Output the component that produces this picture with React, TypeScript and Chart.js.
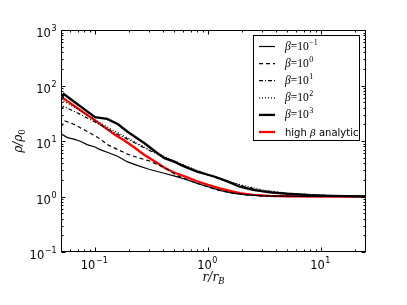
import React, { useEffect, useRef } from "react";
import { Chart, registerables } from "chart.js";

Chart.register(...registerables);

// ---- data ----
const rBetaM1 = [0.05, 0.057, 0.065, 0.075, 0.085, 0.1, 0.111, 0.13, 0.158, 0.194, 0.24, 0.3, 0.4, 0.5, 0.65, 0.8, 1.0, 1.3, 1.7, 2.2, 3, 5, 10, 25];
const rhoBetaM1 = [13.5, 11.5, 10.8, 9.8, 8.6, 7.8, 7.0, 6.2, 5.3, 4.2, 3.6, 3.1, 2.65, 2.35, 2.0, 1.72, 1.5, 1.28, 1.14, 1.07, 1.03, 1.01, 1.0, 1.0];

const rBeta0 = [0.05, 0.054, 0.065, 0.08, 0.091, 0.11, 0.13, 0.164, 0.194, 0.24, 0.3, 0.412, 0.54, 0.7, 0.9, 1.2, 1.6, 2.2, 3, 5, 10, 25];
const rhoBeta0 = [18, 23, 20, 16, 13.8, 11, 8.5, 6.8, 5.8, 5.0, 4.4, 3.3, 2.35, 1.9, 1.6, 1.32, 1.16, 1.07, 1.03, 1.01, 1.0, 1.0];

const rBeta1 = [0.05, 0.053, 0.07, 0.1, 0.15, 0.2, 0.3, 0.5, 0.7, 1, 1.5, 2, 3, 5, 10, 25];
const rhoBeta1 = [38, 42, 32, 22, 14, 10.5, 6.8, 4.3, 3.2, 2.45, 1.85, 1.55, 1.28, 1.13, 1.05, 1.0];

const rBeta2 = [0.05, 0.053, 0.07, 0.1, 0.15, 0.2, 0.3, 0.5, 0.7, 1, 1.5, 2, 3, 5, 10, 25];
const rhoBeta2 = [48, 52, 38, 24, 15, 11, 7.0, 4.4, 3.3, 2.5, 1.9, 1.6, 1.32, 1.15, 1.06, 1.0];

const rBeta3 = [0.05, 0.053, 0.07, 0.1, 0.128, 0.16, 0.194, 0.274, 0.35, 0.412, 0.506, 0.62, 0.8, 1.15, 1.5, 1.91, 2.5, 3.53, 5, 8, 12, 25];
const rhoBeta3 = [55, 70, 46, 27, 25, 20, 14.7, 9.1, 6.2, 4.9, 4.2, 3.45, 2.8, 2.27, 1.85, 1.5, 1.32, 1.19, 1.12, 1.06, 1.03, 1.0];

const rAnalytic = [0.05, 0.07, 0.1, 0.15, 0.182, 0.22, 0.274, 0.35, 0.412, 0.5, 0.62, 0.8, 1.0, 1.27, 1.6, 1.91, 2.5, 3.5, 5, 10, 25];
const rhoAnalytic = [63, 39, 23.5, 13, 10.2, 7.8, 5.6, 4.1, 3.3, 2.7, 2.3, 1.88, 1.62, 1.4, 1.25, 1.15, 1.07, 1.03, 1.01, 1.0, 1.0];

const betaExponents = ["-1", "0", "1", "2", "3"];
const analyticLabel = "high β analytic";

const xMin = 0.05;
const xMax = 25;
const yMin = 0.1;
const yMax = 1000;
const xTickValues = [0.1, 1, 10];
const xTickExponents = ["\u22121", "0", "1"];
const yTickValues = [0.1, 1, 10, 100, 1000];
const yTickExponents = ["\u22121", "0", "1", "2", "3"];

const pts = (r: number[], v: number[]) => r.map((x, i) => ({ x, y: v[i] }));

const decorPlugin = {
  id: "decor",
  afterDraw(chart: any) {
    const ctx = chart.ctx as CanvasRenderingContext2D;
    const a = chart.chartArea;
    const xs = chart.scales.x;
    const ys = chart.scales.y;
    ctx.save();
    // frame
    ctx.strokeStyle = "#000";
    ctx.lineWidth = 1;
    const L = Math.round(a.left) + 0.5;
    const R = Math.round(a.right) - 0.5;
    const T = Math.round(a.top) + 0.5;
    const B = Math.round(a.bottom) - 0.5;
    ctx.strokeRect(L, T, R - L, B - T);

    // ticks
    ctx.beginPath();
    const logTicks = (min: number, max: number) => {
      const out: { v: number; major: boolean }[] = [];
      for (let d = Math.floor(Math.log10(min)); d <= Math.ceil(Math.log10(max)); d++) {
        for (let m = 1; m <= 9; m++) {
          const v = m * Math.pow(10, d);
          if (v >= min * 0.999 && v <= max * 1.001) out.push({ v, major: m === 1 });
        }
      }
      return out;
    };
    for (const t of logTicks(xMin, xMax)) {
      const p = Math.round(xs.getPixelForValue(t.v)) + 0.5;
      const len = t.major ? 4 : 2;
      ctx.moveTo(p, B);
      ctx.lineTo(p, B - len);
      ctx.moveTo(p, T);
      ctx.lineTo(p, T + len);
    }
    for (const t of logTicks(yMin, yMax)) {
      const p = Math.round(ys.getPixelForValue(t.v)) + 0.5;
      const len = t.major ? 4 : 2;
      ctx.moveTo(L, p);
      ctx.lineTo(L + len, p);
      ctx.moveTo(R, p);
      ctx.lineTo(R - len, p);
    }
    ctx.stroke();

    // tick labels
    ctx.fillStyle = "#000";
    ctx.textBaseline = "alphabetic";
    ctx.textAlign = "left";
    const baseFont = "11.5px 'DejaVu Sans'";
    const supFont = "8px 'DejaVu Sans'";
    const measure = (exp: string) => {
      ctx.font = baseFont;
      const w1 = ctx.measureText("10").width;
      ctx.font = supFont;
      const w2 = ctx.measureText(exp).width;
      return [w1, w2];
    };
    const drawPow = (x: number, baseline: number, exp: string) => {
      ctx.font = baseFont;
      ctx.fillText("10", x, baseline);
      const w1 = ctx.measureText("10").width;
      ctx.font = supFont;
      ctx.fillText(exp, x + w1 + 0.5, baseline - 6);
    };
    xTickValues.forEach((v, i) => {
      const p = xs.getPixelForValue(v);
      const [w1, w2] = measure(xTickExponents[i]);
      drawPow(p - (w1 + w2) / 2 - 1, B + 17.5, xTickExponents[i]);
    });
    yTickValues.forEach((v, i) => {
      const p = ys.getPixelForValue(v);
      const [w1, w2] = measure(yTickExponents[i]);
      drawPow(L - 5 - w1 - w2 - 0.5, p + 7, yTickExponents[i]);
    });

    // axis titles
    const it = "italic 12px 'DejaVu Serif'";
    const sub = "italic 8.5px 'DejaVu Serif'";
    ctx.font = it;
    const wa = ctx.measureText("r/r").width;
    ctx.font = sub;
    const wb = ctx.measureText("B").width;
    const cx = (a.left + a.right) / 2;
    ctx.font = it;
    ctx.fillText("r/r", cx - (wa + wb) / 2, 281);
    ctx.font = sub;
    ctx.fillText("B", cx - (wa + wb) / 2 + wa, 284);
    ctx.save();
    ctx.translate(22, (a.top + a.bottom) / 2);
    ctx.rotate(-Math.PI / 2);
    ctx.font = it;
    const wc = ctx.measureText("ρ/ρ").width;
    ctx.font = "8.5px 'DejaVu Serif'";
    const wd = ctx.measureText("0").width;
    ctx.font = it;
    ctx.fillText("ρ/ρ", -(wc + wd) / 2, 0);
    ctx.font = "8.5px 'DejaVu Serif'";
    ctx.fillText("0", -(wc + wd) / 2 + wc, 3);
    ctx.restore();

    // legend
    const bx = 253.5, by = 35.5, bw = 106, bh = 105;
    ctx.fillStyle = "#fff";
    ctx.fillRect(bx, by, bw, bh);
    ctx.strokeStyle = "#000";
    ctx.lineWidth = 1;
    ctx.strokeRect(bx, by, bw, bh);
    const ds = chart.data.datasets;
    ds.forEach((d: any, i: number) => {
      const y = 46.5 + i * 17.1;
      ctx.save();
      ctx.strokeStyle = d.borderColor;
      ctx.lineWidth = d.borderWidth;
      ctx.setLineDash(d.borderDash || []);
      ctx.beginPath();
      ctx.moveTo(259, y);
      ctx.lineTo(275, y);
      ctx.stroke();
      ctx.restore();
      ctx.fillStyle = "#000";
      const tx = 285;
      if (i < betaExponents.length) {
        ctx.font = "italic 11.5px 'Liberation Serif'";
        ctx.fillText("β", tx, y + 3.5);
        const w0 = ctx.measureText("β").width;
        ctx.font = "11.5px 'Liberation Serif'";
        ctx.fillText("=10", tx + w0, y + 3.5);
        const w1 = ctx.measureText("=10").width;
        ctx.font = "8px 'Liberation Serif'";
        const e = betaExponents[i] === "-1" ? "\u22121" : betaExponents[i];
        ctx.fillText(e, tx + w0 + w1 + 0.5, y - 1.5);
      } else {
        ctx.font = "10px 'DejaVu Sans'";
        ctx.fillText("high ", tx, y + 3.5);
        const w0 = ctx.measureText("high ").width;
        ctx.font = "italic 10px 'DejaVu Serif'";
        ctx.fillText("β", tx + w0, y + 3.5);
        const w1 = ctx.measureText("β").width;
        ctx.font = "10px 'DejaVu Sans'";
        ctx.fillText(" analytic", tx + w0 + w1, y + 3.5);
      }
    });
    ctx.restore();
  },
};

export default function App() {
  const ref = useRef<HTMLCanvasElement | null>(null);
  useEffect(() => {
    if (!ref.current) return;
    const common = { pointRadius: 0, tension: 0, fill: false };
    const chart = new Chart(ref.current, {
      type: "line",
      data: {
        datasets: [
          { label: "β=10⁻¹", data: pts(rBetaM1, rhoBetaM1), borderColor: "#000", borderWidth: 1.2, ...common },
          { label: "β=10⁰", data: pts(rBeta0, rhoBeta0), borderColor: "#000", borderWidth: 1.2, borderDash: [4, 3], ...common },
          { label: "β=10¹", data: pts(rBeta1, rhoBeta1), borderColor: "#000", borderWidth: 1.2, borderDash: [4, 2, 1, 2], ...common },
          { label: "β=10²", data: pts(rBeta2, rhoBeta2), borderColor: "#000", borderWidth: 1.2, borderDash: [1, 2], ...common },
          { label: "β=10³", data: pts(rBeta3, rhoBeta3), borderColor: "#000", borderWidth: 2.3, ...common },
          { label: analyticLabel, data: pts(rAnalytic, rhoAnalytic), borderColor: "#ff0000", borderWidth: 2.3, ...common },
        ] as any,
      },
      options: {
        animation: false,
        responsive: true,
        maintainAspectRatio: false,
        parsing: true,
        layout: { padding: { left: 0, right: 41, top: 30, bottom: 0 } },
        plugins: { legend: { display: false }, tooltip: { enabled: false }, title: { display: false } },
        scales: {
          x: {
            type: "logarithmic",
            min: xMin,
            max: xMax,
            grid: { display: false },
            border: { display: false },
            ticks: { display: false },
            afterFit: (s: any) => { s.height = 53; },
          },
          y: {
            type: "logarithmic",
            min: yMin,
            max: yMax,
            grid: { display: false },
            border: { display: false },
            ticks: { display: false },
            afterFit: (s: any) => { s.width = 61; },
          },
        },
      } as any,
      plugins: [decorPlugin],
    });
    return () => chart.destroy();
  }, []);
  return (
    <div style={{ position: "fixed", left: 0, top: 0, width: 407, height: 305, background: "#fff" }}>
      <canvas ref={ref} />
    </div>
  );
}
